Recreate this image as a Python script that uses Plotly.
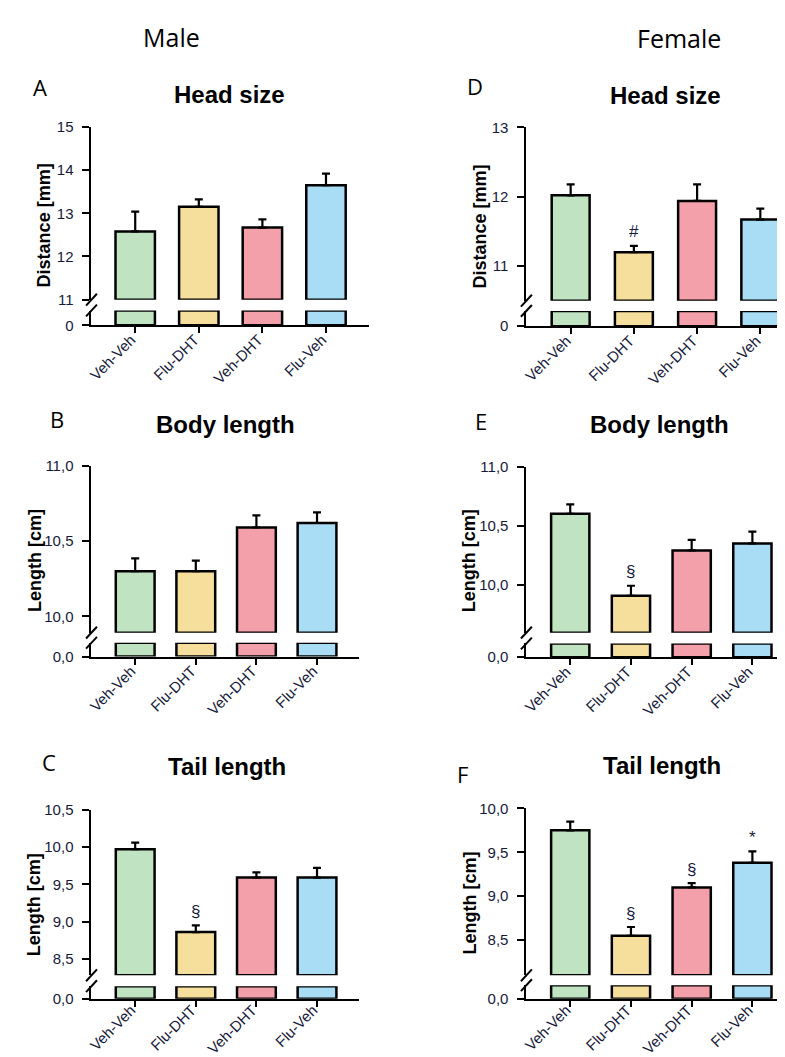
import plotly.graph_objects as go

# ---------------- data ----------------
categories = ["Veh-Veh", "Flu-DHT", "Veh-DHT", "Flu-Veh"]
colors = ["#c0e3c2", "#f6df9c", "#f4a0ab", "#a9dcf5"]

head_male_mean = [12.58, 13.15, 12.67, 13.65]
head_male_sem = [0.46, 0.17, 0.19, 0.27]
body_male_mean = [10.30, 10.30, 10.59, 10.62]
body_male_sem = [0.085, 0.07, 0.08, 0.07]
tail_male_mean = [9.97, 8.86, 9.59, 9.59]
tail_male_sem = [0.09, 0.09, 0.07, 0.13]

head_female_mean = [12.02, 11.20, 11.94, 11.67]
head_female_sem = [0.16, 0.09, 0.24, 0.16]
body_female_mean = [10.60, 9.906, 10.29, 10.35]
body_female_sem = [0.08, 0.085, 0.09, 0.10]
tail_female_mean = [9.75, 8.55, 9.10, 9.38]
tail_female_sem = [0.10, 0.10, 0.05, 0.13]

sig_male_head = ["", "", "", ""]
sig_male_body = ["", "", "", ""]
sig_male_tail = ["", "§", "", ""]
sig_female_head = ["", "#", "", ""]
sig_female_body = ["", "§", "", ""]
sig_female_tail = ["", "§", "§", "*"]

# ---------------- layout helpers ----------------
W, H = 785, 1057
def px_x(p):
    return p / W
def px_y(p):
    return 1 - p / H

NAVY = "#161a3a"
FONT = "Liberation Sans, Arial, sans-serif"

panels = [
    dict(letter="A", title="Head size", ytitle="Distance [mm]", mean=head_male_mean, sem=head_male_sem,
         sig=sig_male_head, yr=[11, 15], tv=[11, 12, 13, 14, 15], fmt="d", zero="0",
         xd=[79, 358], up=[111.7, 287.3], lo=[298.3, 313.3], xr=[-0.6875, 3.672], bw=0.62,
         lpos=(27, 71), tpos=(218, 79), ypos=(31, 212), so=-8),
    dict(letter="D", title="Head size", ytitle="Distance [mm]", mean=head_female_mean, sem=head_female_sem,
         sig=sig_female_head, yr=[10.5, 13], tv=[11, 12, 13], fmt="d", zero="0",
         xd=[516.7, 785], up=[112.3, 288.3], lo=[298.7, 314.3], xr=[-0.70, 3.517], bw=0.60,
         lpos=(465, 70), tpos=(657, 80), ypos=(470, 213), so=-8),
    dict(letter="B", title="Body length", ytitle="Length [cm]", mean=body_male_mean, sem=body_male_sem,
         sig=sig_male_body, yr=[9.893, 11.0], tv=[10.0, 10.5, 11.0], fmt=".1f", zero="0,0",
         xd=[79, 348], up=[456, 625.7], lo=[636, 650], xr=[-0.721, 3.689], bw=0.64,
         lpos=(44, 409), tpos=(214, 414), ypos=(22, 552), so=-8),
    dict(letter="E", title="Body length", ytitle="Length [cm]", mean=body_female_mean, sem=body_female_sem,
         sig=sig_female_body, yr=[9.594, 11.0], tv=[10.0, 10.5, 11.0], fmt=".1f", zero="0,0",
         xd=[516.7, 785], up=[457, 625.7], lo=[636.7, 650.7], xr=[-0.722, 3.669], bw=0.63,
         lpos=(471, 411), tpos=(651, 414), ypos=(459, 553), so=-8),
    dict(letter="C", title="Tail length", ytitle="Length [cm]", mean=tail_male_mean, sem=tail_male_sem,
         sig=sig_male_tail, yr=[8.28, 10.5], tv=[8.5, 9.0, 9.5, 10.0, 10.5], fmt=".1f", zero="0,0",
         xd=[79, 348], up=[805.7, 974], lo=[985, 997.7], xr=[-0.721, 3.689], bw=0.64,
         lpos=(36, 757), tpos=(215, 762), ypos=(22, 902), so=-11),
    dict(letter="F", title="Tail length", ytitle="Length [cm]", mean=tail_female_mean, sem=tail_female_sem,
         sig=sig_female_tail, yr=[8.1, 10.0], tv=[8.5, 9.0, 9.5, 10.0], fmt=".1f", zero="0,0",
         xd=[516.7, 785], up=[804.3, 974], lo=[984, 997.7], xr=[-0.722, 3.669], bw=0.63,
         lpos=(452, 769), tpos=(653, 761), ypos=(459, 901), so=-11),
]

STUB = 1  # height of the lower (0-based) stub segment on its own small axis

fig = go.Figure()
layout = dict(
    width=W, height=H, margin=dict(l=0, r=0, t=0, b=0),
    paper_bgcolor="white", plot_bgcolor="white", showlegend=False,
    separators=",.", font=dict(family=FONT, color=NAVY),
)
annotations = []
shapes = []

for i, p in enumerate(panels):
    xi = i + 1
    ylo = 2 * i + 1
    yup = 2 * i + 2
    xname = "xaxis" if xi == 1 else f"xaxis{xi}"
    xref = "x" if xi == 1 else f"x{xi}"
    ylo_name = "yaxis" if ylo == 1 else f"yaxis{ylo}"
    ylo_ref = "y" if ylo == 1 else f"y{ylo}"
    yup_name = f"yaxis{yup}"
    yup_ref = f"y{yup}"

    base = p["yr"][0]
    fig.add_trace(go.Bar(
        x=categories, y=[m - base for m in p["mean"]], base=base,
        xaxis=xref, yaxis=yup_ref, width=p["bw"], cliponaxis=False,
        marker=dict(color=colors, line=dict(color="black", width=2.5)),
        error_y=dict(type="data", symmetric=False, array=p["sem"], arrayminus=[0] * 4,
                     color="black", thickness=2.2, width=4),
        hoverinfo="skip",
    ))
    fig.add_trace(go.Bar(
        x=categories, y=[STUB] * 4, xaxis=xref, yaxis=ylo_ref, width=p["bw"], cliponaxis=False,
        marker=dict(color=colors, line=dict(color="black", width=2.5)),
        hoverinfo="skip",
    ))

    layout[xname] = dict(
        domain=[px_x(p["xd"][0]), px_x(p["xd"][1])], anchor=ylo_ref, range=p["xr"],
        type="category", showline=True, linecolor="black", linewidth=2,
        ticks="outside", ticklen=6, tickwidth=2, tickcolor="black",
        tickangle=-45, ticklabelstandoff=p["so"], ticklabelshift=-4,
        tickfont=dict(size=15, family=FONT, color=NAVY),
        showgrid=False, zeroline=False, fixedrange=True,
    )
    layout[ylo_name] = dict(
        domain=[px_y(p["lo"][1]), px_y(p["lo"][0])], anchor=xref, range=[0, STUB],
        tickvals=[0], ticktext=[p["zero"]], showline=True, linecolor="black", linewidth=2,
        ticks="outside", ticklen=7, tickwidth=2, tickcolor="black", ticklabelstandoff=6,
        tickfont=dict(size=15, family=FONT, color=NAVY),
        showgrid=False, zeroline=False, fixedrange=True,
    )
    layout[yup_name] = dict(
        domain=[px_y(p["up"][1]), px_y(p["up"][0])], anchor=xref, range=p["yr"],
        tickvals=p["tv"], tickformat=p["fmt"], showline=True, linecolor="black", linewidth=2,
        ticks="outside", ticklen=7, tickwidth=2, tickcolor="black", ticklabelstandoff=6,
        tickfont=dict(size=15, family=FONT, color=NAVY),
        showgrid=False, zeroline=False, fixedrange=True,
    )

    ax = p["xd"][0]
    for yb in (p["up"][1], p["lo"][0]):
        shapes.append(dict(type="line", xref="paper", yref="paper",
                           x0=px_x(ax - 5.5), y0=px_y(yb + 6), x1=px_x(ax + 5.5), y1=px_y(yb - 6),
                           line=dict(color="black", width=2)))

    for c, m, s, t in zip(categories, p["mean"], p["sem"], p["sig"]):
        if t:
            annotations.append(dict(x=c, y=m + s, xref=xref, yref=yup_ref, text=t, showarrow=False,
                                    yanchor="middle", yshift=14,
                                    font=dict(size=17, family=FONT, color=NAVY)))

    annotations.append(dict(x=px_x(p["lpos"][0]), y=px_y(p["lpos"][1]), xref="paper", yref="paper",
                            text=p["letter"], showarrow=False, xanchor="center", yanchor="middle",
                            font=dict(size=22, family="Open Sans, sans-serif", color="black")))
    annotations.append(dict(x=px_x(p["tpos"][0]), y=px_y(p["tpos"][1]), xref="paper", yref="paper",
                            text="<b>" + p["title"] + "</b>", showarrow=False,
                            xanchor="center", yanchor="middle",
                            font=dict(size=24, family=FONT, color="black")))
    annotations.append(dict(x=px_x(p["ypos"][0]), y=px_y(p["ypos"][1]), xref="paper", yref="paper",
                            text="<b>" + p["ytitle"] + "</b>", showarrow=False, textangle=-90,
                            xanchor="center", yanchor="middle",
                            font=dict(size=18, family=FONT, color="black")))

annotations.append(dict(x=px_x(160), y=px_y(20), xref="paper", yref="paper", text="Male",
                        showarrow=False, xanchor="center", yanchor="middle",
                        font=dict(size=25, family="Open Sans, sans-serif", color="black")))
annotations.append(dict(x=px_x(670), y=px_y(21), xref="paper", yref="paper", text="Female",
                        showarrow=False, xanchor="center", yanchor="middle",
                        font=dict(size=25, family="Open Sans, sans-serif", color="black")))

layout["annotations"] = annotations
layout["shapes"] = shapes
layout["bargap"] = 0.38
fig.update_layout(**layout)

fig.write_html("out.html")
